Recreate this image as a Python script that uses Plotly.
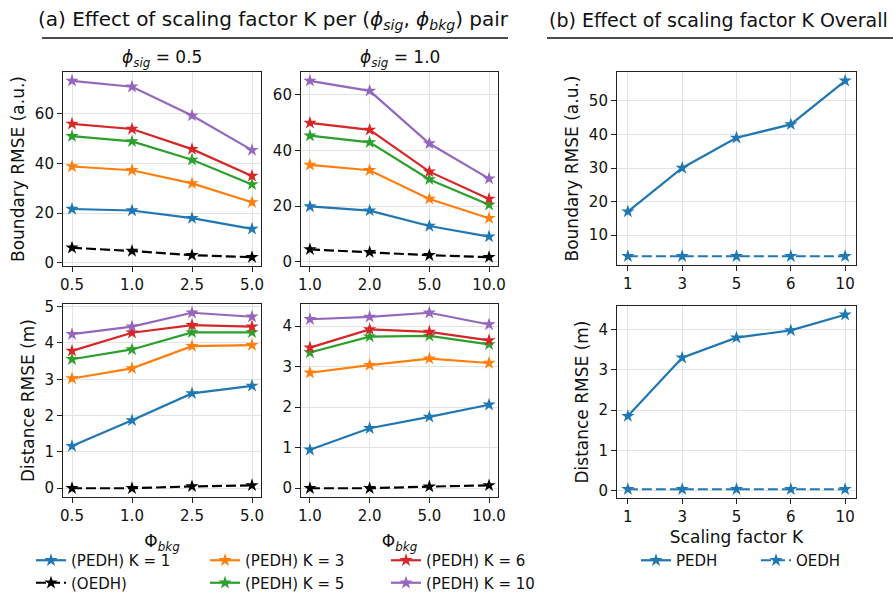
import plotly.graph_objects as go

W, H = 893, 592

# ---------------- data ----------------
bkg_sig05 = ["0.5", "1.0", "2.5", "5.0"]
bkg_sig10 = ["1.0", "2.0", "5.0", "10.0"]
k_labels = ["1", "3", "5", "6", "10"]

# Boundary RMSE (a.u.), phi_sig = 0.5
b05_k1 = [21.7, 21.1, 18.0, 13.7]
b05_k3 = [38.8, 37.3, 32.0, 24.4]
b05_k5 = [51.0, 48.9, 41.5, 31.6]
b05_k6 = [56.0, 53.9, 45.8, 35.0]
b05_k10 = [73.3, 70.9, 59.3, 45.4]
b05_oedh = [6.1, 4.8, 3.1, 2.3]

# Boundary RMSE (a.u.), phi_sig = 1.0
b10_k1 = [19.9, 18.4, 12.9, 9.1]
b10_k3 = [34.8, 32.9, 22.6, 15.7]
b10_k5 = [45.3, 42.9, 29.6, 20.5]
b10_k6 = [49.9, 47.4, 32.4, 22.6]
b10_k10 = [65.0, 61.4, 42.5, 29.9]
b10_oedh = [4.5, 3.5, 2.4, 1.7]

# Distance RMSE (m), phi_sig = 0.5
d05_k1 = [1.16, 1.87, 2.61, 2.82]
d05_k3 = [3.02, 3.30, 3.91, 3.94]
d05_k5 = [3.55, 3.82, 4.29, 4.29]
d05_k6 = [3.78, 4.28, 4.49, 4.45]
d05_k10 = [4.24, 4.45, 4.83, 4.72]
d05_oedh = [0.00, 0.00, 0.05, 0.08]

# Distance RMSE (m), phi_sig = 1.0
d10_k1 = [0.95, 1.48, 1.76, 2.06]
d10_k3 = [2.85, 3.04, 3.20, 3.09]
d10_k5 = [3.35, 3.74, 3.76, 3.55]
d10_k6 = [3.47, 3.92, 3.86, 3.65]
d10_k10 = [4.17, 4.23, 4.33, 4.04]
d10_oedh = [0.00, 0.00, 0.04, 0.07]

# Overall
overall_b_pedh = [17.0, 30.0, 39.0, 43.0, 56.0]
overall_b_oedh = [3.7, 3.7, 3.7, 3.7, 3.7]
overall_d_pedh = [1.85, 3.30, 3.80, 3.98, 4.37]
overall_d_oedh = [0.03, 0.03, 0.03, 0.03, 0.03]

series_names = ["(PEDH) K = 1", "(PEDH) K = 3", "(PEDH) K = 5", "(PEDH) K = 6", "(PEDH) K = 10", "(OEDH)"]
colors = ["#1f77b4", "#ff7f0e", "#2ca02c", "#d62728", "#9467bd", "black"]
legend_ids = ["legend", "legend2", "legend2", "legend3", "legend3", "legend"]
legend_ranks = [1, 1, 2, 1, 2, 2]

panels = {
    1: [b05_k1, b05_k3, b05_k5, b05_k6, b05_k10, b05_oedh],
    2: [b10_k1, b10_k3, b10_k5, b10_k6, b10_k10, b10_oedh],
    4: [d05_k1, d05_k3, d05_k5, d05_k6, d05_k10, d05_oedh],
    5: [d10_k1, d10_k3, d10_k5, d10_k6, d10_k10, d10_oedh],
}

FONT = "DejaVu Sans"
LW = 2.2
MS = 10
DASH = "10px,4px"
PHI = "\u03d5"

fig = go.Figure()

for ax, sers in panels.items():
    xs = list(range(4))
    for i, ys in enumerate(sers):
        fig.add_trace(go.Scatter(
            x=xs, y=ys, mode="lines+markers", name=series_names[i],
            line=dict(color=colors[i], width=LW, dash=DASH if i == 5 else "solid"),
            marker=dict(symbol="star", size=MS, color=colors[i]),
            xaxis="x" if ax == 1 else f"x{ax}", yaxis="y" if ax == 1 else f"y{ax}",
            showlegend=(ax == 1), legend=legend_ids[i], legendrank=legend_ranks[i],
        ))

for ax, pe, oe in [(3, overall_b_pedh, overall_b_oedh), (6, overall_d_pedh, overall_d_oedh)]:
    xs = list(range(5))
    fig.add_trace(go.Scatter(
        x=xs, y=pe, mode="lines+markers", name="PEDH",
        line=dict(color="#1f77b4", width=LW), marker=dict(symbol="star", size=MS, color="#1f77b4"),
        xaxis=f"x{ax}", yaxis=f"y{ax}", showlegend=(ax == 3), legend="legend4"))
    fig.add_trace(go.Scatter(
        x=xs, y=oe, mode="lines+markers", name="OEDH",
        line=dict(color="#1f77b4", width=LW, dash=DASH), marker=dict(symbol="star", size=MS, color="#1f77b4"),
        xaxis=f"x{ax}", yaxis=f"y{ax}", showlegend=(ax == 3), legend="legend5"))


def px_x(a, b):
    return [a / W, b / W]


def px_y(top, bottom):
    return [1 - bottom / H, 1 - top / H]


def yrange(lists):
    lo = min(min(l) for l in lists)
    hi = max(max(l) for l in lists)
    p = 0.05 * (hi - lo)
    return [lo - p, hi + p]


base_axis = dict(
    showline=True, mirror=True, linecolor="#222", linewidth=1.1,
    ticks="outside", ticklen=5, tickwidth=1.1, tickcolor="#222",
    showgrid=True, gridcolor="#e3e3e3", gridwidth=1, zeroline=False,
    tickfont=dict(family=FONT, size=15, color="#111"), automargin=False,
)

domains_x = {1: px_x(63, 261), 2: px_x(301, 498), 3: px_x(617, 856),
             4: px_x(63, 261), 5: px_x(301, 498), 6: px_x(617, 856)}
domains_y = {1: px_y(72, 266), 2: px_y(72, 266), 3: px_y(72, 265),
             4: px_y(304, 497), 5: px_y(304, 497), 6: px_y(306, 498)}

phi_bkg = "\u03a6<sub><i>bkg</i></sub>"
xticks = {1: bkg_sig05, 2: bkg_sig10, 3: k_labels, 4: bkg_sig05, 5: bkg_sig10, 6: k_labels}
xtitles = {4: phi_bkg, 5: phi_bkg, 6: "Scaling factor K"}
xstand = {4: 11, 5: 11, 6: 6}
ytitles = {1: "Boundary RMSE (a.u.)", 4: "Distance RMSE (m)", 3: "Boundary RMSE (a.u.)", 6: "Distance RMSE (m)"}
ystand = {1: 5, 4: 5, 3: 5, 6: 5}
ydticks = {1: 20, 2: 20, 3: 10, 4: 1, 5: 1, 6: 1}
yranges = {
    1: yrange(panels[1]), 2: yrange(panels[2]), 4: yrange(panels[4]), 5: yrange(panels[5]),
    3: yrange([overall_b_pedh, overall_b_oedh]), 6: yrange([overall_d_pedh, overall_d_oedh]),
}

layout = {}
for ax in range(1, 7):
    n = len(xticks[ax])
    m = 0.05 * (n - 1)
    xa = dict(base_axis, domain=domains_x[ax], anchor="y" if ax == 1 else f"y{ax}",
              range=[-m, n - 1 + m], tickvals=list(range(n)), ticktext=xticks[ax])
    if ax in xtitles:
        xa["title"] = dict(text=xtitles[ax], font=dict(family=FONT, size=17, color="#111"), standoff=xstand[ax])
    ya = dict(base_axis, domain=domains_y[ax], anchor="x" if ax == 1 else f"x{ax}",
              range=yranges[ax], dtick=ydticks[ax], tick0=0)
    if ax in ytitles:
        ya["title"] = dict(text=ytitles[ax], font=dict(family=FONT, size=17, color="#111"), standoff=ystand[ax])
    layout["xaxis" if ax == 1 else f"xaxis{ax}"] = xa
    layout["yaxis" if ax == 1 else f"yaxis{ax}"] = ya

leg_common = dict(orientation="v", xanchor="left", yanchor="top", bgcolor="rgba(0,0,0,0)",
                  font=dict(family=FONT, size=15, color="#111"), tracegroupgap=0,
                  itemwidth=30)
leg_y = 1 - 544 / H
layout["legend"] = dict(leg_common, x=31 / W, y=leg_y)
layout["legend2"] = dict(leg_common, x=205 / W, y=leg_y)
layout["legend3"] = dict(leg_common, x=386 / W, y=leg_y)
layout["legend4"] = dict(leg_common, x=636 / W, y=leg_y)
layout["legend5"] = dict(leg_common, x=756 / W, y=leg_y)

fig.update_layout(**layout)

title_a = ("(a) Effect of scaling factor K per (<i>" + PHI + "</i><sub><i>sig</i></sub>, <i>" + PHI +
           "</i><sub><i>bkg</i></sub>) pair")
title_b = "(b) Effect of scaling factor K Overall"
ann = [
    dict(text=title_a, x=273 / W, y=1 - 20 / H, xref="paper", yref="paper", showarrow=False,
         xanchor="center", yanchor="middle", font=dict(family=FONT, size=20, color="#111")),
    dict(text=title_b, x=718 / W, y=1 - 20 / H, xref="paper", yref="paper", showarrow=False,
         xanchor="center", yanchor="middle", font=dict(family=FONT, size=19, color="#111")),
    dict(text="<i>" + PHI + "</i><sub><i>sig</i></sub> = 0.5", x=162 / W, y=1 - 58 / H, xref="paper",
         yref="paper", showarrow=False, xanchor="center", yanchor="middle",
         font=dict(family=FONT, size=17, color="#111")),
    dict(text="<i>" + PHI + "</i><sub><i>sig</i></sub> = 1.0", x=400 / W, y=1 - 58 / H, xref="paper",
         yref="paper", showarrow=False, xanchor="center", yanchor="middle",
         font=dict(family=FONT, size=17, color="#111")),
]
shapes = [
    dict(type="line", xref="paper", yref="paper", x0=42 / W, x1=508 / W, y0=1 - 38 / H, y1=1 - 38 / H,
         line=dict(color="#111", width=1.6)),
    dict(type="line", xref="paper", yref="paper", x0=547 / W, x1=893 / W, y0=1 - 38 / H, y1=1 - 38 / H,
         line=dict(color="#111", width=1.6)),
]

fig.update_layout(
    width=W, height=H, margin=dict(l=0, r=0, t=0, b=0, autoexpand=False),
    paper_bgcolor="white", plot_bgcolor="white",
    font=dict(family=FONT, size=15, color="#111"),
    annotations=ann, shapes=shapes,
)

fig.write_html("out.html", config={"displayModeBar": False},
               post_script="document.body.style.margin='0px';document.body.style.overflow='hidden';")
